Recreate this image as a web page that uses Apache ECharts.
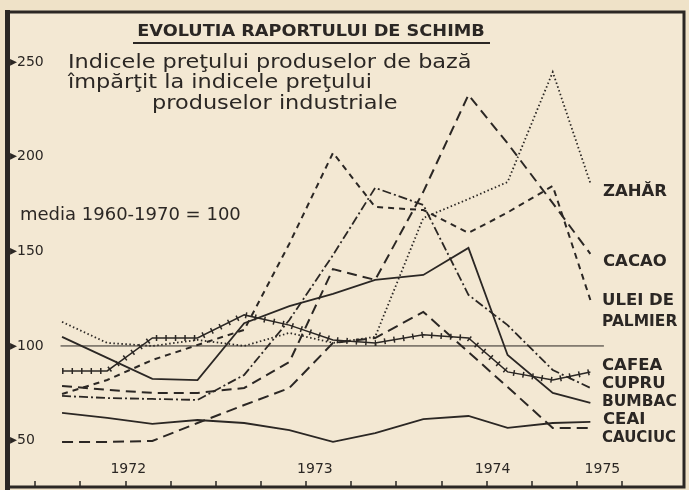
<!DOCTYPE html>
<html><head><meta charset="utf-8">
<script src="https://cdn.jsdelivr.net/npm/echarts@6/dist/echarts.min.js"></script>
<style>html,body{margin:0;padding:0;background:#efe2c8;}#c{width:689px;height:490px;}</style>
</head><body><div id="c"></div><script>
// x positions of the data points, in months after the first quarter tick
const monthPos = [1.8, 4.8, 7.8, 10.8, 13.9, 16.9, 19.8, 22.6, 25.8, 28.8, 31.4, 34.4, 36.9];
const quarterTicks = [0, 3, 6, 9, 12, 15, 18, 21, 24, 27, 30, 33, 36, 39];
const yearLabels = ['1972', '1973', '1974', '1975'];
const yearLabelPos = [6.2, 18.6, 30.4, 37.7];
const yTickValues = [50, 100, 150, 200, 250];
const refSpan = [1.7, 37.8];
const refValue = 100;

const sugar  = [112.7, 101.6, 100, 103.2, 100, 106.9, 101.6, 104.8, 167.6, 177.6, 186.6, 244.7, 186];
const cacao  = [78.9, 76.8, 75.2, 75.2, 77.8, 91.5, 140.6, 134.9, 181.4, 232.6, 207, 175.5, 148.6];
const palm   = [74.6, 82, 92.6, 100.5, 108.5, 154, 202, 173.4, 171.8, 159.7, 170.5, 184.5, 124.3];
const coffee = [86.8, 86.8, 104.2, 104.2, 116.4, 111, 103.2, 101.6, 105.9, 104.2, 86.3, 82, 86.3];
const copper = [73.6, 72.5, 72, 71.5, 84.7, 113.7, 148, 183.5, 174.5, 127, 111, 87.3, 77.8];
const cotton = [104.8, 93.7, 82.6, 82, 112, 121, 127.5, 134.9, 137.5, 151.8, 95.2, 75.2, 69.9];
const tea    = [64.6, 62, 58.8, 60.9, 59.3, 55.6, 49.3, 54, 61.4, 63, 56.7, 59.3, 59.9];
const rubber = [49.3, 49.3, 49.8, 59.3, 68.8, 77.8, 101.6, 104.2, 118, 96.8, 78.3, 56.7, 56.7];

const INK = '#2b2724';
const FONT = 'DejaVu Sans';
const pts = arr => arr.map((v, i) => [monthPos[i], v]);

function line(name, arr, style) {
  return {
    name, type: 'line', data: pts(arr), symbol: 'none', silent: true,
    lineStyle: Object.assign({ color: INK, width: 1.8, cap: 'butt', join: 'miter' }, style),
    z: 3
  };
}
function txt(text, x, y, font, sx, align) {
  return { type: 'text', x: x, y: y, scaleX: sx || 1, silent: true,
    style: { text: text, x: 0, y: 0, align: align || 'left', verticalAlign: 'middle', font: font, fill: INK } };
}

const chart = echarts.init(document.getElementById('c'), null, { renderer: 'canvas' });
const LBL = 'bold 15px ' + FONT;
chart.setOption({
  backgroundColor: '#efe2c8',
  animation: false,
  grid: { left: 8, right: 5, top: 12, bottom: 3, show: true, borderColor: INK, borderWidth: 3, backgroundColor: '#f3e8d3' },
  xAxis: {
    type: 'value', min: -1.79, max: 43.12,
    axisLine: { show: false },
    splitLine: { show: false },
    axisTick: { show: true, inside: true, length: 6, customValues: quarterTicks, lineStyle: { color: INK, width: 1.5 } },
    axisLabel: {
      show: true, inside: true, margin: 11, customValues: yearLabelPos,
      formatter: v => { const i = yearLabelPos.indexOf(v); return i >= 0 ? yearLabels[i] : ''; },
      color: INK, fontFamily: FONT, fontSize: 14
    }
  },
  yAxis: {
    type: 'value', min: 25.5, max: 276.4,
    axisLine: { show: false },
    splitLine: { show: false },
    axisTick: { show: false },
    axisLabel: {
      show: true, inside: true, margin: 2, customValues: yTickValues,
      formatter: v => '▸' + v, color: INK, fontFamily: FONT, fontSize: 14
    }
  },
  series: [
    { name: 'media', type: 'line', data: refSpan.map(x => [x, refValue]), symbol: 'none', silent: true,
      lineStyle: { color: INK, width: 1 }, z: 2 },
    line('ZAHĂR', sugar, { type: [1.5, 2.5], width: 1.8 }),
    line('CACAO', cacao, { type: [10, 6], width: 2 }),
    line('ULEI DE PALMIER', palm, { type: [6, 5], width: 2 }),
    line('CAFEA', coffee, { type: 'solid', width: 1.5 }),
    line('CAFEA ticks', coffee, { type: [1.5, 8], width: 6 }),
    line('CUPRU', copper, { type: [9, 3, 2, 3], width: 1.8 }),
    line('BUMBAC', cotton, { type: 'solid', width: 1.8 }),
    line('CEAI', tea, { type: 'solid', width: 1.8 }),
    line('CAUCIUC', rubber, { type: [11, 6], width: 2 })
  ],
  graphic: [
    { type: 'rect', shape: { x: 5, y: 10, width: 5, height: 480 }, style: { fill: INK }, silent: true },
    txt('EVOLUTIA RAPORTULUI DE SCHIMB', 311, 32, 'bold 15px ' + FONT, 1.18, 'center'),
    { type: 'line', shape: { x1: 133, y1: 43, x2: 490, y2: 43 }, style: { stroke: INK, lineWidth: 2 }, silent: true },
    txt('Indicele preţului produselor de bază', 68, 63, '19px ' + FONT, 1.18),
    txt('împărţit la indicele preţului', 68, 83, '19px ' + FONT, 1.18),
    txt('produselor industriale', 152, 104, '19px ' + FONT, 1.18),
    txt('media 1960-1970 = 100', 20, 215, '18px ' + FONT, 1),
    txt('ZAHĂR', 603, 192, LBL, 1.1),
    txt('CACAO', 603, 262, LBL, 1.1),
    txt('ULEI DE', 602, 301, LBL, 1.1),
    txt('PALMIER', 602, 322, LBL, 1.03),
    txt('CAFEA', 602, 366, LBL, 1.1),
    txt('CUPRU', 602, 384, LBL, 1.1),
    txt('BUMBAC', 602, 402, LBL, 1.03),
    txt('CEAI', 603, 420, LBL, 1.1),
    txt('CAUCIUC', 602, 438, LBL, 1.0)
  ]
});
</script></body></html>
